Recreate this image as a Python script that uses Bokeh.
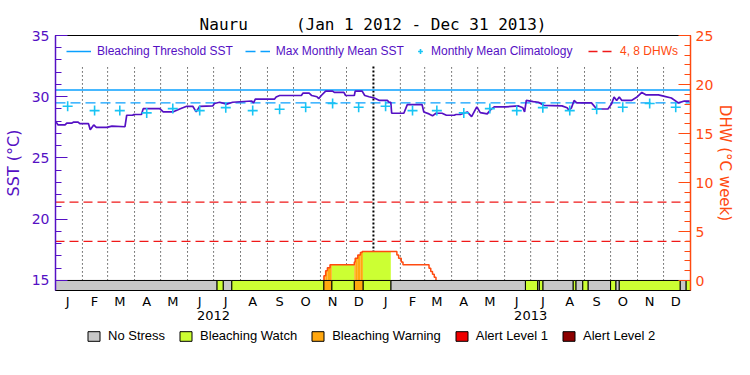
import numpy as np
import pandas as pd
from bokeh.plotting import figure
from bokeh.layouts import column
from bokeh.models import Range1d, LinearAxis, FixedTicker, Legend, LegendItem
from bokeh.embed import file_html
from bokeh.resources import INLINE

# ---------------- data ----------------
site = "Nauru"
period = "(Jan 1 2012 - Dec 31 2013)"
start_date = "2012-01-01"
end_date = "2014-01-01"

sst_dates = [
    "2012-01-01", "2012-01-04", "2012-01-12", "2012-01-14", "2012-01-20", "2012-01-22", "2012-01-27",
    "2012-01-29", "2012-02-08", "2012-02-10", "2012-02-14", "2012-02-17", "2012-02-29", "2012-03-06",
    "2012-03-21", "2012-03-23", "2012-03-30", "2012-03-31", "2012-04-09", "2012-04-11", "2012-04-30",
    "2012-05-04", "2012-05-15", "2012-05-23", "2012-05-31", "2012-06-07", "2012-06-11", "2012-06-15",
    "2012-06-30", "2012-07-02", "2012-07-08", "2012-07-16", "2012-07-23", "2012-08-14", "2012-08-16",
    "2012-08-18", "2012-09-09", "2012-09-11", "2012-09-15", "2012-10-10", "2012-10-12", "2012-10-19",
    "2012-10-22", "2012-10-28", "2012-10-30", "2012-11-02", "2012-11-07", "2012-11-15", "2012-11-17",
    "2012-11-28", "2012-11-30", "2012-12-10", "2012-12-11", "2012-12-19", "2012-12-22", "2012-12-27",
    "2013-01-02", "2013-01-08", "2013-01-17", "2013-01-19", "2013-01-21", "2013-01-22", "2013-02-05",
    "2013-02-09", "2013-02-26", "2013-02-28", "2013-03-06", "2013-03-10", "2013-03-14", "2013-03-21",
    "2013-03-26", "2013-04-04", "2013-04-06", "2013-04-11", "2013-04-15", "2013-04-19", "2013-04-24",
    "2013-04-30", "2013-05-04", "2013-05-12", "2013-05-16", "2013-05-20", "2013-06-02", "2013-06-17",
    "2013-06-22", "2013-06-24", "2013-06-26", "2013-07-04", "2013-07-10", "2013-07-16", "2013-08-06",
    "2013-08-12", "2013-08-14", "2013-08-17", "2013-08-20", "2013-08-23", "2013-09-09", "2013-09-15",
    "2013-09-28", "2013-10-02", "2013-10-05", "2013-10-08", "2013-10-11", "2013-10-14", "2013-10-25",
    "2013-10-31", "2013-11-06", "2013-11-11", "2013-11-25", "2013-12-01", "2013-12-10", "2013-12-18",
    "2013-12-25", "2013-12-31",
]
sst_values = [
    28.0, 27.7, 27.7, 27.85, 27.85, 27.93, 27.93,
    27.8, 27.8, 27.3, 27.7, 27.5, 27.5, 27.6,
    27.55, 28.49, 28.49, 28.55, 28.55, 29.03, 29.03,
    28.76, 28.76, 29.0, 29.22, 29.22, 28.76, 29.22,
    29.25, 29.45, 29.55, 29.4, 29.55, 29.65, 29.5,
    29.8, 29.8, 29.98, 30.1, 30.1, 30.3, 30.3,
    30.1, 30.0, 29.85, 30.1, 30.46, 30.46, 30.35,
    30.35, 30.1, 30.1, 30.46, 30.46, 30.1, 30.0,
    29.9, 29.7, 29.7, 29.55, 29.55, 28.65, 28.65,
    29.36, 29.36, 28.75, 28.6, 28.44, 28.65, 28.65,
    28.49, 28.49, 28.55, 28.55, 28.65, 28.76, 28.38,
    29.17, 28.7, 28.6, 28.95, 29.17, 29.17, 29.25,
    29.1, 28.76, 29.7, 29.6, 29.55, 29.3, 29.25,
    29.1, 28.9, 29.1, 29.7, 29.5, 29.5, 29.0,
    29.0, 29.4, 29.98, 29.7, 29.98, 29.7, 29.7,
    29.95, 30.35, 30.15, 30.15, 30.05, 29.9, 29.5,
    29.65, 29.65,
]

clim_values = [29.22, 28.87, 28.87, 28.68, 29.03, 28.87, 29.11, 28.87, 28.98, 29.14, 29.45, 29.14]
mmm_sst = 29.5
threshold_sst = 30.55
dhw_levels = [4, 8]

dhw_dates = ["2012-11-05", "2012-11-07", "2012-11-09", "2012-11-12", "2012-12-10", "2012-12-11",
             "2012-12-14", "2012-12-17", "2012-12-19", "2013-01-28", "2013-01-30", "2013-02-02",
             "2013-02-04", "2013-03-06", "2013-03-08", "2013-03-10", "2013-03-12", "2013-03-14"]
dhw_values = [0.48, 0.99, 1.29, 1.60, 1.90, 2.27, 2.61, 2.85, 2.95, 2.61, 2.27, 1.90,
              1.60, 1.25, 0.93, 0.65, 0.34, 0.0]

status_starts = ["2012-01-01", "2012-07-05", "2012-07-12", "2012-07-22", "2012-11-05", "2012-11-14",
                 "2012-12-10", "2012-12-20", "2013-01-21", "2013-06-25", "2013-07-09", "2013-07-11",
                 "2013-07-15", "2013-08-19", "2013-08-22", "2013-08-30", "2013-09-05", "2013-10-01",
                 "2013-10-07", "2013-10-11", "2013-12-20", "2013-12-27"]
status_levels = [0, 1, 0, 1, 2, 1, 2, 1, 0, 1, 0, 1, 0, 1, 0, 1, 0, 1, 0, 1, 0, 1]
status_names = ["No Stress", "Bleaching Watch", "Bleaching Warning", "Alert Level 1", "Alert Level 2"]
status_colors = ["#c8c8c8", "#ccff33", "#ffa70f", "#f00000", "#8c0000"]

month_letters = ["J", "F", "M", "A", "M", "J", "J", "A", "S", "O", "N", "D"]
years = ["2012", "2013"]

# ---------------- styles ----------------
PURPLE = "#5510c4"
ORANGE = "#ff4a10"
BLUE = "#0aa0ff"
CYAN = "#18c4f4"
RED = "#f01818"
FIG_W = 740

T0 = pd.Timestamp(start_date)
total_days = (pd.Timestamp(end_date) - T0).days


def day(s):
    return (pd.Timestamp(s) - T0).days


sst_x = [day(s) for s in sst_dates]
clim_x, clim_y, month_mid, month_lab, month_start = [], [], [], [], []
for y in years:
    for m in range(12):
        month_mid.append(day(f"{y}-{m + 1:02d}-15"))
        month_lab.append(month_letters[m])
        clim_x.append(day(f"{y}-{m + 1:02d}-15"))
        clim_y.append(clim_values[m])
        month_start.append(day(f"{y}-{m + 1:02d}-01"))
year_mid = [day(f"{y}-07-01") for y in years]
year_edges = [day(f"{y}-01-01") for y in years[1:]]
thin_grid = [d for d in month_start if d not in year_edges and d != 0]

st_left = [day(s) for s in status_starts]
st_right = st_left[1:] + [total_days]
dhw_x = [day(s) for s in dhw_dates]

# daily status and DHW (for the coloured fill under the DHW curve)
lvl_day = np.zeros(total_days, dtype=int)
for l, r, lv in zip(st_left, st_right, status_levels):
    lvl_day[l:r] = lv
dhw_day = np.zeros(total_days)
for i, (x0, v) in enumerate(zip(dhw_x, dhw_values)):
    x1 = dhw_x[i + 1] if i + 1 < len(dhw_x) else total_days
    dhw_day[x0:x1] = v
fill = {k: dict(left=[], right=[], top=[]) for k in range(5)}
d = 0
while d < total_days:
    lv, v = lvl_day[d], dhw_day[d]
    e = d + 1
    while e < total_days and lvl_day[e] == lv and dhw_day[e] == v:
        e += 1
    if lv >= 1 and v > 0:
        fill[lv]["left"].append(d)
        fill[lv]["right"].append(e)
        fill[lv]["top"].append(v)
    d = e

SST_LO, SST_HI = 14.18, 35.0
DHW_LO, DHW_HI = -1.02, 25.0
BAR_TOP = 15.0
GRID_TOP = 32.55

p = figure(width=FIG_W, height=324, x_range=Range1d(0, total_days), y_range=Range1d(SST_LO, SST_HI),
           x_axis_type=None, y_axis_type=None, output_backend="svg", toolbar_location=None,
           min_border_left=50, min_border_right=50, min_border_top=35, min_border_bottom=34)
p.extra_y_ranges = {"dhw": Range1d(DHW_LO, DHW_HI)}
p.outline_line_color = "black"
p.outline_line_width = 1
p.background_fill_color = "white"
p.border_fill_color = "white"

p.title.text = (site + "\u00a0" * 5 + period).replace(" ", "\u00a0")
p.title.align = "center"
p.title.text_font = "DejaVu Sans Mono"
p.title.text_font_size = "16px"
p.title.text_font_style = "normal"
p.title.text_color = "black"
p.title.standoff = 4

# dotted month grid
p.segment(x0=thin_grid, y0=[BAR_TOP] * len(thin_grid), x1=thin_grid, y1=[GRID_TOP] * len(thin_grid),
          line_color="black", line_width=1, line_dash="1 3")
p.segment(x0=year_edges, y0=[BAR_TOP] * len(year_edges), x1=year_edges, y1=[GRID_TOP] * len(year_edges),
          line_color="black", line_width=2, line_dash="2 2")

thr_r = p.line([0, total_days], [threshold_sst, threshold_sst], line_color=BLUE, line_width=1.5)
mmm_r = p.line([0, total_days], [mmm_sst, mmm_sst], line_color=BLUE, line_width=1.3, line_dash="10 5")

for lv in range(1, 5):
    src = fill[lv]
    if src["left"]:
        p.quad(left=src["left"], right=src["right"], bottom=[0] * len(src["left"]), top=src["top"],
               fill_color=status_colors[lv], line_color=None, y_range_name="dhw")

ref_r = p.multi_line(xs=[[0, total_days] for _ in dhw_levels], ys=[[v, v] for v in dhw_levels],
                     line_color=RED, line_width=1.3, line_dash="9 5", y_range_name="dhw")

p.step(x=[dhw_x[0]] + dhw_x, y=[0.0] + dhw_values, mode="after", line_color=ORANGE, line_width=1.5,
       y_range_name="dhw")

# status bar
for lv in range(5):
    idx = [i for i, s in enumerate(status_levels) if s == lv]
    if idx:
        p.quad(left=[st_left[i] for i in idx], right=[st_right[i] for i in idx], bottom=SST_LO, top=BAR_TOP,
               fill_color=status_colors[lv], line_color="black", line_width=1)

p.line(sst_x, sst_values, line_color=PURPLE, line_width=1.7)
clim_r = p.scatter(clim_x, clim_y, marker="cross", size=10, line_color=CYAN, line_width=1.6)

# axes
yl = LinearAxis(ticker=FixedTicker(ticks=[15, 20, 25, 30, 35], minor_ticks=list(range(15, 36))),
                axis_label="SST (°C)")
yr = LinearAxis(y_range_name="dhw", ticker=FixedTicker(ticks=[0, 5, 10, 15, 20, 25], minor_ticks=list(range(0, 26))),
                axis_label="DHW (°C week)")
for ax, col in ((yl, PURPLE), (yr, ORANGE)):
    ax.axis_line_color = col
    ax.axis_line_width = 1.5
    ax.major_tick_line_color = col
    ax.minor_tick_line_color = col
    ax.major_tick_in = 12
    ax.major_tick_out = 0
    ax.minor_tick_in = 6
    ax.minor_tick_out = 0
    ax.major_label_text_color = col
    ax.major_label_text_font = "DejaVu Sans"
    ax.major_label_text_font_size = "14px"
    ax.axis_label_text_color = col
    ax.axis_label_text_font = "DejaVu Sans"
    ax.axis_label_text_font_style = "normal"
yl.major_label_standoff = 6
yl.axis_label_text_font_size = "16px"
yl.axis_label_standoff = 6
yr.major_label_standoff = 5
yr.axis_label_text_font_size = "15px"
yr.axis_label_standoff = 0
p.add_layout(yl, "left")
p.add_layout(yr, "right")

xm = LinearAxis(ticker=FixedTicker(ticks=month_mid, minor_ticks=[]),
                major_label_overrides={int(k): v for k, v in zip(month_mid, month_lab)})
xy = LinearAxis(ticker=FixedTicker(ticks=year_mid, minor_ticks=[]),
                major_label_overrides={int(k): v for k, v in zip(year_mid, years)})
for ax in (xm, xy):
    ax.major_tick_line_color = None
    ax.minor_tick_line_color = None
    ax.major_label_text_font = "DejaVu Sans"
    ax.major_label_text_font_size = "13px"
    ax.major_label_text_color = "black"
xm.axis_line_color = "black"
xm.major_label_standoff = -3
xy.axis_line_color = None
xy.major_label_standoff = -7
p.add_layout(xm, "below")
p.add_layout(xy, "below")


def style_legend(lg, size, color):
    lg.orientation = "horizontal"
    lg.padding = 0
    lg.margin = 0
    lg.border_line_color = None
    lg.background_fill_alpha = 0
    lg.label_text_font = "Liberation Sans"
    lg.label_text_font_size = size
    lg.label_text_color = color


L1 = Legend(items=[LegendItem(label="Bleaching Threshold SST", renderers=[thr_r]),
                   LegendItem(label="Max Monthly Mean SST", renderers=[mmm_r])],
            location=(11, 229), glyph_width=25, label_standoff=6, spacing=12)
L2 = Legend(items=[LegendItem(label="Monthly Mean Climatology", renderers=[clim_r])],
            location=(359, 229), glyph_width=12, label_standoff=5)
L3 = Legend(items=[LegendItem(label="4, 8 DHWs", renderers=[ref_r])],
            location=(533, 229), glyph_width=27, label_standoff=5)
for lg, col in ((L1, PURPLE), (L2, PURPLE), (L3, ORANGE)):
    style_legend(lg, "12px", col)
    p.add_layout(lg)

# ---------------- status legend strip ----------------
q = figure(width=FIG_W, height=30, x_range=Range1d(0, 1), y_range=Range1d(0, 1),
           x_axis_type=None, y_axis_type=None, output_backend="svg", toolbar_location=None,
           min_border_left=0, min_border_right=0, min_border_top=0, min_border_bottom=0)
q.outline_line_color = None
q.grid.visible = False
key_r = []
for lv in range(5):
    key_r.append(q.quad(left=[float("nan")], right=[float("nan")], bottom=[float("nan")], top=[float("nan")],
                        fill_color=status_colors[lv], line_color="black", line_width=1))
LB = Legend(items=[LegendItem(label=n, renderers=[r]) for n, r in zip(status_names, key_r)],
            location=(31, 11), glyph_width=15, glyph_height=12, label_standoff=7, spacing=13)
style_legend(LB, "13px", "black")
q.add_layout(LB)

layout = column(p, q, spacing=0)
open("out.html", "w").write(file_html(layout, INLINE))
